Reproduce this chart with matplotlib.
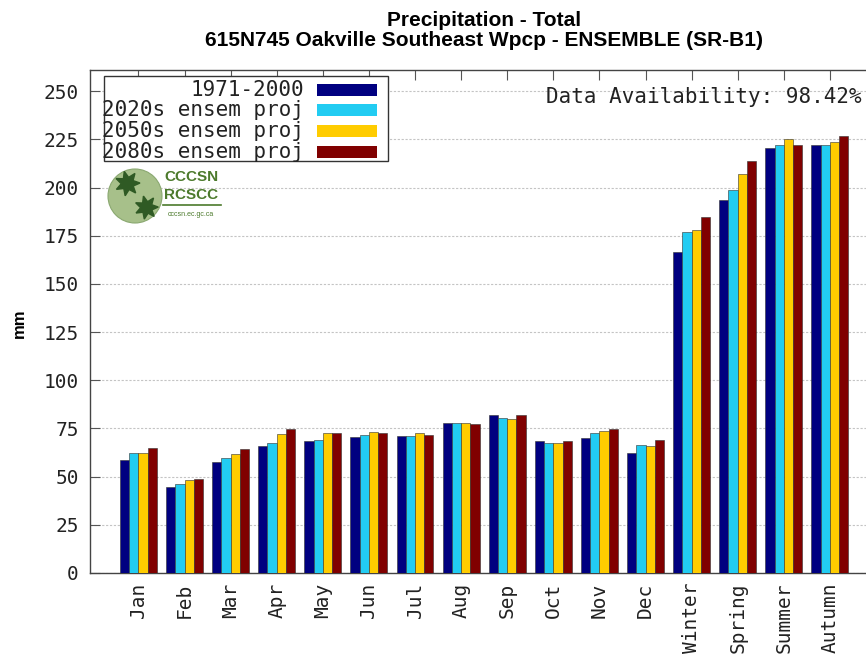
import matplotlib
matplotlib.use("Agg")
import matplotlib.pyplot as plt
import numpy as np
from matplotlib.patches import Rectangle, Ellipse
from matplotlib.lines import Line2D

# ---------------- data ----------------
categories = ["Jan", "Feb", "Mar", "Apr", "May", "Jun", "Jul", "Aug", "Sep",
              "Oct", "Nov", "Dec", "Winter", "Spring", "Summer", "Autumn"]
series_names = ["1971-2000", "2020s ensem proj", "2050s ensem proj", "2080s ensem proj"]
v1971 = [58.5, 44.5, 57.6, 65.9, 68.5, 70.5, 71.1, 78.0, 81.9, 68.5, 70.2, 62.5,
         166.5, 193.8, 220.5, 222.0]
v2020 = [62.3, 46.4, 59.9, 67.6, 69.2, 71.4, 71.1, 78.0, 80.2, 67.4, 72.8, 66.4,
         176.8, 198.5, 222.2, 222.0]
v2050 = [62.3, 48.1, 61.6, 71.9, 72.6, 73.3, 72.6, 78.0, 79.7, 67.6, 73.7, 66.0,
         178.0, 207.0, 225.2, 223.4]
v2080 = [65.0, 48.7, 64.2, 74.5, 72.6, 72.5, 71.4, 77.5, 81.9, 68.5, 74.5, 69.0,
         184.5, 213.6, 222.2, 226.5]
yticks = [0, 25, 50, 75, 100, 125, 150, 175, 200, 225, 250]
title1 = "Precipitation - Total"
title2 = "615N745 Oakville Southeast Wpcp - ENSEMBLE (SR-B1)"
availability = "Data Availability: 98.42%"
ylabel = "mm"

colors = ["#000080", "#22ccf2", "#ffcc00", "#800000"]
series = [v1971, v2020, v2050, v2080]

W, H = 866, 660
def fx(x):
    return x / W
def fy(y):
    return 1 - y / H

mono = ["DejaVu Sans Mono"]
sans = ["Liberation Sans", "DejaVu Sans"]

fig = plt.figure(figsize=(W / 100, H / 100), dpi=100)
ax = fig.add_axes([fx(90), fy(573), (876 - 90) / W, (573 - 70) / H])

x = np.arange(len(categories))
bw = 0.2
offsets = [-0.3, -0.1, 0.1, 0.3]
for vals, col, off, name in zip(series, colors, offsets, series_names):
    ax.bar(x + off, vals, width=bw, color=col, edgecolor="#303030",
           linewidth=0.4, zorder=3, label=name)

ax.set_xlim(-1.05, 16.0)
ax.set_ylim(0, 261)
ax.set_yticks(yticks)
ax.set_yticklabels([str(t) for t in yticks], family=mono, fontsize=14, color="#222222")
ax.set_xticks(x)
ax.set_xticklabels(categories, rotation=90, family=mono, fontsize=14,
                   color="#222222", va="top")
ax.tick_params(axis="y", direction="in", left=True, right=True, length=7,
               width=0.8, color="#555555", pad=8)
ax.tick_params(axis="x", direction="in", bottom=False, top=True, length=7,
               width=0.8, color="#555555", pad=7)
ax.yaxis.grid(True, color="#c4c4c4", linestyle=(0, (2, 1.5)), linewidth=0.8, zorder=0)
ax.set_axisbelow(True)
for s in ax.spines.values():
    s.set_color("#444444")
    s.set_linewidth(1.0)

# titles
fig.text(fx(484), fy(20), title1, ha="center", va="center", fontsize=15,
         fontweight="bold", family=sans)
fig.text(fx(484), fy(40), title2, ha="center", va="center", fontsize=15,
         fontweight="bold", family=sans)

# y label
fig.text(fx(19), fy(323), ylabel, rotation=90, ha="center", va="center",
         fontsize=12, fontweight="bold", family=sans)

# data availability
fig.text(fx(862), fy(97), availability, ha="right", va="center", fontsize=15,
         family=mono, color="#222222")

# legend (manual, gnuplot style)
fig.add_artist(Rectangle((fx(104), fy(161)), (388 - 104) / W, (161 - 76) / H,
                         transform=fig.transFigure, facecolor="white",
                         edgecolor="#333333", linewidth=1.0, zorder=5))
rows = [90, 110, 131, 152]
for name, col, ry in zip(series_names, colors, rows):
    fig.text(fx(304), fy(ry), name, ha="right", va="center", fontsize=15,
             family=mono, color="#222222", zorder=6)
    fig.add_artist(Rectangle((fx(317), fy(ry + 6)), 60 / W, 12 / H,
                             transform=fig.transFigure, facecolor=col,
                             edgecolor="none", zorder=6))

# logo
fig.add_artist(Ellipse((fx(135), fy(196)), 54 / W, 54 / H, transform=fig.transFigure,
                       facecolor="#a7c08a", edgecolor="#8aa870", linewidth=0.8, zorder=5))
for (lx, ly, ms) in [(127, 183, 18), (146, 207, 17)]:
    fig.add_artist(Line2D([fx(lx)], [fy(ly)], marker=(7, 1, 15), markersize=ms,
                          color="#2f5a24", transform=fig.transFigure, zorder=6))
fig.text(fx(191), fy(177), "CCCSN", ha="center", va="center", fontsize=11,
         fontweight="bold", color="#4c7a2c", family=sans)
fig.text(fx(191), fy(195), "RCSCC", ha="center", va="center", fontsize=11,
         fontweight="bold", color="#4c7a2c", family=sans)
fig.add_artist(Line2D([fx(163), fx(221)], [fy(205), fy(205)], color="#4c7a2c",
                      linewidth=1.2, transform=fig.transFigure))
fig.text(fx(191), fy(214), "cccsn.ec.gc.ca", ha="center", va="center", fontsize=5,
         color="#4c7a2c", family=sans)

fig.savefig("out.png", dpi=100, facecolor="white")
